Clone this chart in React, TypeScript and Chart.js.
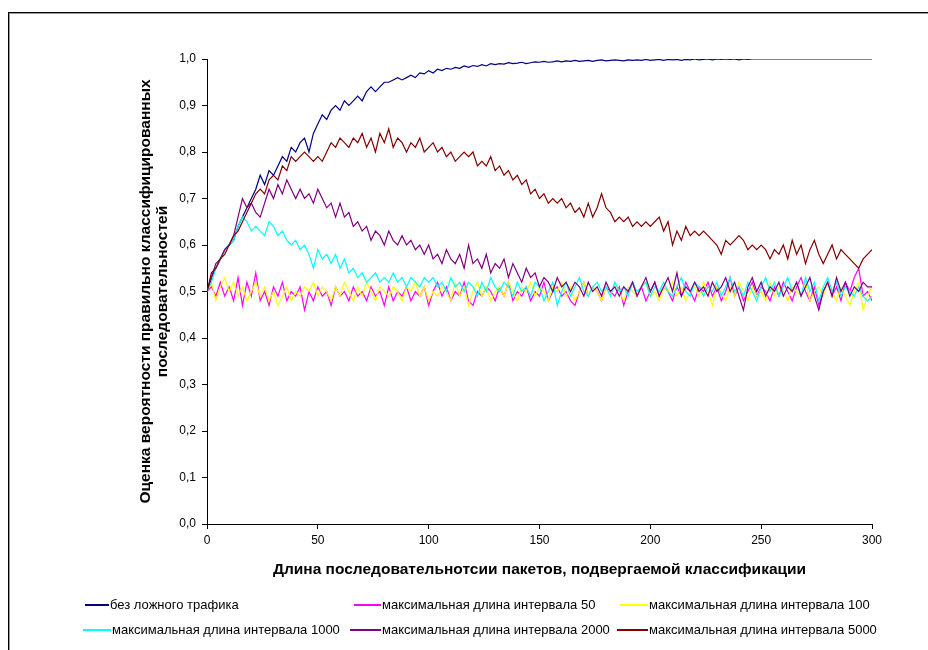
import React, { useEffect, useRef } from "react";
import { Chart, registerables } from "chart.js";

Chart.register(...registerables);

// x positions of the sampled points: 0, 2, 4, ... 300
const X_STEP = 2;

const xTickValues = [0, 50, 100, 150, 200, 250, 300];
const yTickValues = [0, 0.1, 0.2, 0.3, 0.4, 0.5, 0.6, 0.7, 0.8, 0.9, 1.0];

const xTitle = "Длина последовательнотсии пакетов, подвергаемой классификации";
const yTitle = ["Оценка вероятности правильно классифицированных", "последовательностей"];

const seriesNames = [
  "без ложного трафика",
  "максимальная длина интервала 50",
  "максимальная длина интервала 100",
  "максимальная длина интервала 1000",
  "максимальная длина интервала 2000",
  "максимальная длина интервала 5000",
];

const seriesColors = ["#000080", "#FF00FF", "#FFFF00", "#00FFFF", "#800080", "#800000"];

const noFake = [
  0.50, 0.53, 0.55, 0.57, 0.59, 0.60, 0.61, 0.64, 0.66, 0.68,
  0.70, 0.72, 0.75, 0.73, 0.76, 0.75, 0.77, 0.79, 0.78, 0.81,
  0.80, 0.82, 0.83, 0.80, 0.84, 0.86, 0.88, 0.87, 0.89, 0.90,
  0.89, 0.91, 0.90, 0.91, 0.92, 0.91, 0.93, 0.94, 0.93, 0.94,
  0.95, 0.95, 0.955, 0.96, 0.955, 0.96, 0.965, 0.96, 0.97, 0.968,
  0.975, 0.97, 0.978, 0.975, 0.98, 0.978, 0.982, 0.98, 0.985, 0.982,
  0.986, 0.984, 0.988, 0.985, 0.99, 0.988, 0.99, 0.989, 0.992, 0.99,
  0.991, 0.993, 0.99, 0.992, 0.994, 0.993, 0.995, 0.993, 0.994, 0.996,
  0.994, 0.996, 0.995, 0.997, 0.995, 0.996, 0.997, 0.995, 0.997, 0.998,
  0.996, 0.997, 0.998, 0.997, 0.996, 0.998, 0.997, 0.998, 0.997, 0.999,
  0.997, 0.998, 0.999, 0.997, 0.999, 0.998, 0.999, 0.997, 0.999, 0.998,
  1.0, 0.998, 0.999, 1.0, 0.998, 1.0, 0.999, 1.0, 0.999, 1.0,
  0.998, 1.0, 0.999, 1.0, 1.0, 1.0, 1.0, 1.0, 1.0, 1.0,
  1.0, 1.0, 1.0, 1.0, 1.0, 1.0, 1.0, 1.0, 1.0, 1.0,
  1.0, 1.0, 1.0, 1.0, 1.0, 1.0, 1.0, 1.0, 1.0, 1.0,
  1.0,
];

const interval50 = [
  0.50, 0.51, 0.49, 0.52, 0.49, 0.51, 0.48, 0.53, 0.47, 0.52,
  0.49, 0.54, 0.48, 0.50, 0.47, 0.51, 0.49, 0.52, 0.48, 0.50,
  0.49, 0.51, 0.46, 0.50, 0.48, 0.51, 0.49, 0.50, 0.47, 0.51,
  0.49, 0.50, 0.48, 0.51, 0.49, 0.50, 0.48, 0.51, 0.49, 0.50,
  0.47, 0.51, 0.48, 0.50, 0.49, 0.51, 0.48, 0.50, 0.49, 0.51,
  0.47, 0.50, 0.52, 0.49, 0.51, 0.48, 0.50, 0.49, 0.52, 0.48,
  0.47, 0.50, 0.49, 0.51, 0.50, 0.48, 0.51, 0.49, 0.52, 0.48,
  0.50, 0.49, 0.51, 0.48, 0.50, 0.49, 0.52, 0.48, 0.50, 0.51,
  0.49, 0.50, 0.48, 0.47, 0.50, 0.52, 0.49, 0.51, 0.50, 0.48,
  0.51, 0.50, 0.49, 0.51, 0.47, 0.50, 0.52, 0.49, 0.51, 0.48,
  0.50, 0.52, 0.49, 0.51, 0.50, 0.48, 0.51, 0.49, 0.52, 0.50,
  0.48, 0.51, 0.50, 0.52, 0.49, 0.51, 0.48, 0.50, 0.53, 0.49,
  0.51, 0.48, 0.50, 0.52, 0.49, 0.51, 0.50, 0.48, 0.51, 0.49,
  0.52, 0.50, 0.48, 0.51, 0.53, 0.50, 0.48, 0.51, 0.47, 0.50,
  0.52, 0.49, 0.51, 0.48, 0.52, 0.50, 0.53, 0.55, 0.49, 0.50,
  0.48,
];

const interval100 = [
  0.50, 0.52, 0.48, 0.51, 0.53, 0.50, 0.52, 0.49, 0.51, 0.48,
  0.50, 0.52, 0.49, 0.51, 0.48, 0.50, 0.47, 0.49, 0.51, 0.48,
  0.50, 0.49, 0.51, 0.50, 0.52, 0.49, 0.51, 0.50, 0.48, 0.51,
  0.49, 0.52, 0.50, 0.48, 0.51, 0.49, 0.52, 0.50, 0.48, 0.51,
  0.50, 0.49, 0.51, 0.50, 0.48, 0.51, 0.50, 0.52, 0.49, 0.51,
  0.48, 0.50, 0.49, 0.51, 0.50, 0.48, 0.52, 0.49, 0.51, 0.47,
  0.50, 0.52, 0.49, 0.51, 0.48, 0.50, 0.51, 0.49, 0.52, 0.50,
  0.48, 0.51, 0.50, 0.52, 0.49, 0.51, 0.50, 0.48, 0.51, 0.50,
  0.52, 0.49, 0.51, 0.48, 0.50, 0.52, 0.49, 0.51, 0.50, 0.48,
  0.51, 0.49, 0.52, 0.50, 0.48, 0.51, 0.50, 0.49, 0.51, 0.52,
  0.49, 0.50, 0.48, 0.51, 0.50, 0.52, 0.49, 0.51, 0.48, 0.50,
  0.51, 0.49, 0.52, 0.50, 0.47, 0.51, 0.50, 0.48, 0.51, 0.49,
  0.52, 0.50, 0.48, 0.51, 0.49, 0.50, 0.48, 0.52, 0.49, 0.51,
  0.50, 0.48, 0.51, 0.50, 0.49, 0.52, 0.48, 0.50, 0.51, 0.49,
  0.52, 0.50, 0.48, 0.51, 0.49, 0.47, 0.50, 0.52, 0.46, 0.49,
  0.51,
];

const interval1000 = [
  0.50, 0.52, 0.55, 0.57, 0.59, 0.60, 0.61, 0.64, 0.66, 0.65,
  0.63, 0.64, 0.63, 0.62, 0.65, 0.64, 0.62, 0.63, 0.61, 0.60,
  0.61, 0.59, 0.60, 0.58, 0.55, 0.59, 0.57, 0.58, 0.56, 0.58,
  0.55, 0.57, 0.54, 0.55, 0.53, 0.54, 0.52, 0.53, 0.54, 0.52,
  0.53, 0.52, 0.54, 0.52, 0.53, 0.51, 0.53, 0.52, 0.51, 0.53,
  0.52, 0.53, 0.51, 0.52, 0.50, 0.53, 0.51, 0.52, 0.50, 0.52,
  0.51, 0.49, 0.52, 0.50, 0.53, 0.51, 0.50, 0.52, 0.51, 0.49,
  0.52, 0.50, 0.51, 0.49, 0.52, 0.51, 0.48, 0.50, 0.52, 0.47,
  0.50, 0.52, 0.49, 0.51, 0.53, 0.50, 0.49, 0.51, 0.52, 0.50,
  0.51, 0.49, 0.52, 0.50, 0.51, 0.49, 0.52, 0.50, 0.51, 0.52,
  0.49, 0.51, 0.50, 0.52, 0.50, 0.49, 0.51, 0.53, 0.50, 0.49,
  0.52, 0.51, 0.49, 0.51, 0.50, 0.52, 0.49, 0.51, 0.53, 0.50,
  0.51, 0.49, 0.52, 0.50, 0.48, 0.51, 0.53, 0.50, 0.52, 0.49,
  0.51, 0.53, 0.50, 0.52, 0.49, 0.53, 0.50, 0.52, 0.48, 0.51,
  0.53, 0.50, 0.52, 0.49, 0.51, 0.50, 0.49, 0.51, 0.49, 0.48,
  0.49,
];

const interval2000 = [
  0.50, 0.53, 0.56, 0.57, 0.59, 0.60, 0.62, 0.66, 0.70, 0.68,
  0.69, 0.67, 0.66, 0.69, 0.72, 0.70, 0.73, 0.71, 0.74, 0.72,
  0.70, 0.72, 0.70, 0.71, 0.69, 0.72, 0.70, 0.68, 0.69, 0.66,
  0.69, 0.66, 0.67, 0.64, 0.65, 0.63, 0.64, 0.61, 0.63, 0.62,
  0.60, 0.63, 0.61, 0.60, 0.62, 0.60, 0.61, 0.59, 0.60, 0.58,
  0.60, 0.57, 0.58, 0.56, 0.59, 0.57, 0.56, 0.58, 0.55, 0.60,
  0.56, 0.57, 0.55, 0.58, 0.54, 0.56, 0.55, 0.57, 0.53, 0.56,
  0.54, 0.52, 0.55, 0.53, 0.54, 0.51, 0.53, 0.52, 0.50, 0.53,
  0.51, 0.52, 0.50, 0.52, 0.51, 0.49, 0.52, 0.50, 0.51, 0.49,
  0.52, 0.50, 0.51, 0.49, 0.51, 0.50, 0.52, 0.49, 0.51, 0.53,
  0.50, 0.52, 0.49, 0.51, 0.53, 0.50, 0.54, 0.49, 0.51, 0.50,
  0.52, 0.50, 0.51, 0.49, 0.52, 0.50, 0.51, 0.53, 0.50, 0.52,
  0.49, 0.46, 0.51, 0.53, 0.50, 0.52, 0.49, 0.51, 0.50, 0.52,
  0.49, 0.51, 0.50, 0.52, 0.49, 0.51, 0.53, 0.49, 0.46, 0.50,
  0.52, 0.49, 0.53, 0.50, 0.52, 0.49, 0.51, 0.50, 0.52, 0.51,
  0.51,
];

const interval5000 = [
  0.50, 0.54, 0.55, 0.57, 0.58, 0.60, 0.62, 0.63, 0.65, 0.67,
  0.69, 0.71, 0.72, 0.71, 0.74, 0.75, 0.74, 0.77, 0.76, 0.79,
  0.78, 0.79, 0.80, 0.79, 0.78, 0.79, 0.78, 0.80, 0.82, 0.81,
  0.83, 0.82, 0.81, 0.83, 0.82, 0.84, 0.81, 0.83, 0.80, 0.84,
  0.82, 0.85, 0.81, 0.83, 0.82, 0.80, 0.82, 0.81, 0.83, 0.80,
  0.81, 0.82, 0.80, 0.81, 0.79, 0.80, 0.78, 0.79, 0.80, 0.79,
  0.80, 0.77, 0.78, 0.77, 0.79, 0.76, 0.77, 0.75, 0.76, 0.74,
  0.75, 0.73, 0.74, 0.71, 0.72, 0.70, 0.71, 0.69, 0.70, 0.69,
  0.70, 0.68, 0.69, 0.67, 0.68, 0.66, 0.69, 0.66, 0.68, 0.71,
  0.68, 0.67, 0.65, 0.66, 0.65, 0.66, 0.64, 0.65, 0.64, 0.65,
  0.64, 0.65, 0.66, 0.63, 0.65, 0.60, 0.63, 0.61, 0.64, 0.62,
  0.63, 0.62, 0.63, 0.62, 0.61, 0.60, 0.58, 0.61, 0.60, 0.61,
  0.62, 0.61, 0.59, 0.60, 0.59, 0.60, 0.59, 0.57, 0.59, 0.58,
  0.60, 0.57, 0.61, 0.58, 0.60, 0.56, 0.59, 0.61, 0.58, 0.56,
  0.58, 0.60, 0.57, 0.59, 0.58, 0.57, 0.56, 0.55, 0.57, 0.58,
  0.59,
];

const seriesValues = [noFake, interval50, interval100, interval1000, interval2000, interval5000];

const FONT = '"Liberation Sans", Arial, sans-serif';

const LEGEND_POS = [
  { lx: 85, tx: 110, y: 605 },
  { lx: 354, tx: 382, y: 605 },
  { lx: 620, tx: 649, y: 605 },
  { lx: 83, tx: 112, y: 630 },
  { lx: 350, tx: 382, y: 630 },
  { lx: 617, tx: 649, y: 630 },
];

function fmt(v: number) {
  return v.toFixed(1).replace(".", ",");
}

export default function App() {
  const canvasRef = useRef<HTMLCanvasElement | null>(null);

  useEffect(() => {
    const canvas = canvasRef.current;
    if (!canvas) return;
    const n = seriesValues.length;
    const chart = new Chart(canvas, {
      type: "line",
      data: {
        datasets: seriesValues.map((vals, i) => ({
          label: seriesNames[i],
          data: vals.map((v, k) => ({ x: k * X_STEP, y: v })),
          borderColor: seriesColors[i],
          backgroundColor: seriesColors[i],
          borderWidth: 1.2,
          pointRadius: 0,
          tension: 0,
          fill: false,
          order: n - 1 - i,
        })),
      },
      options: {
        responsive: false,
        animation: false,
        events: [],
        layout: { padding: { top: 59, right: 56, left: 0, bottom: 0 } },
        plugins: {
          legend: { display: false },
          tooltip: { enabled: false },
          title: { display: false },
        },
        scales: {
          x: {
            type: "linear",
            min: 0,
            max: 300,
            afterBuildTicks: (s: any) => {
              s.ticks = xTickValues.map((v) => ({ value: v }));
            },
            afterFit: (s: any) => {
              s.height = 126;
            },
            grid: { drawOnChartArea: false, drawTicks: true, tickLength: 5, color: "#000" },
            border: { display: true, color: "#000", width: 1 },
            ticks: {
              padding: 4,
              color: "#000",
              maxRotation: 0,
              autoSkip: false,
              font: { family: FONT, size: 12 },
              callback: (v: any) => String(v),
            },
            title: {
              display: true,
              text: xTitle,
              color: "#000",
              font: { family: FONT, size: 15.5, weight: "bold", lineHeight: 1.05 },
              padding: { top: 0, bottom: 72 },
            },
          },
          y: {
            type: "linear",
            min: 0,
            max: 1,
            afterBuildTicks: (s: any) => {
              s.ticks = yTickValues.map((v) => ({ value: v }));
            },
            afterFit: (s: any) => {
              s.width = 207;
            },
            grid: { drawOnChartArea: false, drawTicks: true, tickLength: 5, color: "#000" },
            border: { display: true, color: "#000", width: 1 },
            ticks: {
              padding: 6,
              color: "#000",
              autoSkip: false,
              font: { family: FONT, size: 12 },
              callback: (v: any) => fmt(Number(v)),
            },
            title: {
              display: true,
              text: yTitle,
              color: "#000",
              font: { family: FONT, size: 15.5, weight: "bold", lineHeight: 1.05 },
              padding: { top: 138, bottom: 0 },
            },
          },
        },
      },
    } as any);
    return () => chart.destroy();
  }, []);

  return (
    <div
      style={{
        position: "fixed",
        left: 0,
        top: 0,
        width: 928,
        height: 650,
        overflow: "hidden",
        background: "#fff",
      }}
    >
      <div
        style={{
          position: "absolute",
          left: 8,
          top: 12,
          width: 1000,
          height: 1000,
          borderLeft: "1px solid #000",
          borderTop: "1px solid #000",
          boxShadow: "inset 1px 1px 0 #999",
        }}
      />
      <canvas
        ref={canvasRef}
        width={928}
        height={650}
        style={{ position: "absolute", left: 0, top: 0, width: 928, height: 650 }}
      />
      {seriesNames.map((name, i) => {
        const p = LEGEND_POS[i];
        return (
          <div key={i}>
            <div
              style={{
                position: "absolute",
                left: p.lx,
                top: p.y - 1,
                width: p.tx - p.lx - 1,
                height: 2,
                background: seriesColors[i],
              }}
            />
            <div
              style={{
                position: "absolute",
                left: p.tx,
                top: p.y - 8,
                height: 16,
                lineHeight: "16px",
                fontFamily: FONT,
                fontSize: 13,
                color: "#000",
                whiteSpace: "nowrap",
              }}
            >
              {name}
            </div>
          </div>
        );
      })}
    </div>
  );
}
